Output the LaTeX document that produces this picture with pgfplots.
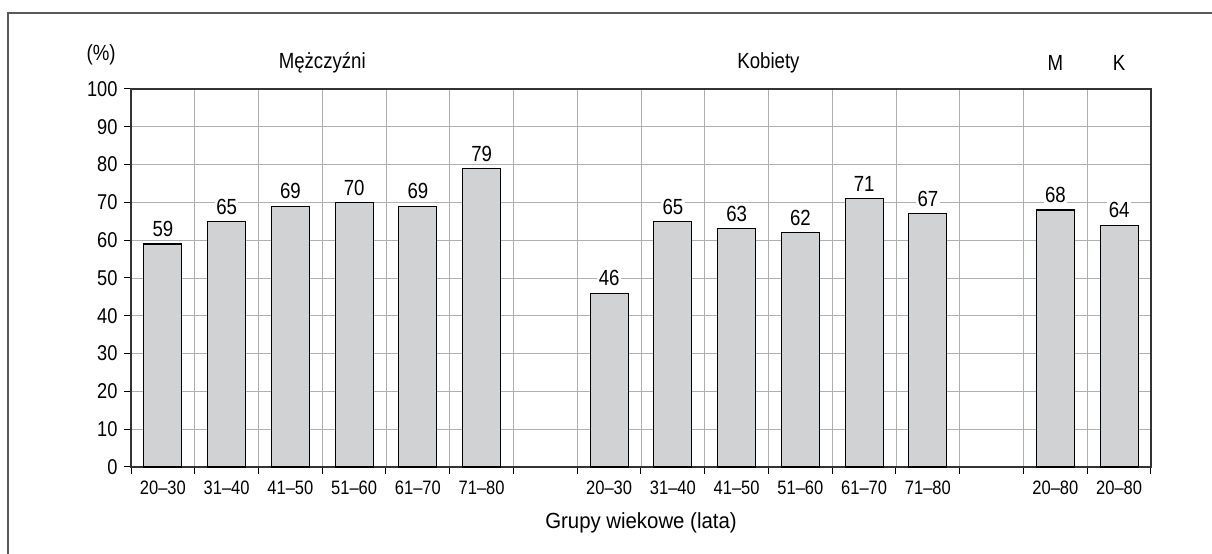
\documentclass[border=0pt]{standalone}
\usepackage{pgfplots}
\pgfplotsset{compat=1.18}
\usepackage{fontspec}
\setmainfont{Liberation Sans}[FakeStretch=0.85]
\newfontfamily\widefont{Liberation Sans}[FakeStretch=0.93]
\definecolor{barfill}{RGB}{209,210,212}
\definecolor{gridc}{RGB}{175,175,175}
\begin{document}
\begin{tikzpicture}
\useasboundingbox (0,0) rectangle (1212bp,554bp);
\draw[line width=1.5bp, black!65] (8bp,0) -- (8bp,541bp) -- (1212bp,541bp);
\begin{axis}[
  at={(131bp,87bp)}, anchor=south west,
  width=1020bp, height=378bp, scale only axis,
  xmin=-0.5, xmax=15.5, ymin=0, ymax=100,
  ytick={0,10,...,100},
  xtick={0,...,15},
  xticklabels={20--30,31--40,41--50,51--60,61--70,71--80,,20--30,31--40,41--50,51--60,61--70,71--80,,20--80,20--80},
  minor xtick={-0.5,0.5,...,15.5},
  major x tick style={draw=none},
  xtick pos=bottom, ytick pos=left,
  xmajorgrids=false, xminorgrids=true, ymajorgrids=true,
  major grid style={draw=gridc, line width=0.9bp},
  minor grid style={draw=gridc, line width=0.9bp},
  tick align=outside, major tick length=7bp, minor tick length=7bp,
  tick style={black, line width=1bp},
  axis line style={black!80, line width=1.2bp},
  /pgf/number format/assume math mode=true,
  yticklabel style={font=\fontsize{21.5}{26}\selectfont, xshift=-3bp},
  xticklabel style={font=\fontsize{19.5}{23}\selectfont, yshift=-3bp},
  xlabel={Grupy wiekowe (lata)},
  xlabel style={at={(axis description cs:0.5,-0.148)}, anchor=center, font=\widefont\fontsize{22}{26}\selectfont},
  clip=false,
  nodes near coords,
  every node near coord/.append style={font=\fontsize{22}{26}\selectfont, fill=white, inner sep=1.5bp, yshift=5bp},
]
\addplot[ybar, bar width=38bp, fill=barfill, draw=black, line width=1.1bp] coordinates {
(0,59) (1,65) (2,69) (3,70) (4,69) (5,79)
(7,46) (8,65) (9,63) (10,62) (11,71) (12,67)
(14,68) (15,64)};
\node[font=\fontsize{22}{26}\selectfont] at (axis cs:-0.97,109) {(\%)};
\node[font=\fontsize{22}{26}\selectfont] at (axis cs:2.5,107) {Mężczyźni};
\node[font=\fontsize{22}{26}\selectfont] at (axis cs:9.5,107) {Kobiety};
\node[font=\fontsize{22}{26}\selectfont] at (axis cs:14,107) {M};
\node[font=\fontsize{22}{26}\selectfont] at (axis cs:15,107) {K};
\end{axis}
\end{tikzpicture}
\end{document}
